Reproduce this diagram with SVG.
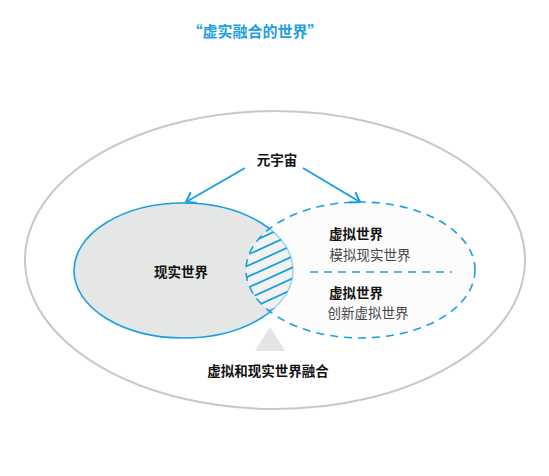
<svg xmlns="http://www.w3.org/2000/svg" width="549" height="476" viewBox="0 0 549 476">
<style>
text{font-family:"Noto Sans CJK SC","Noto Sans",sans-serif;text-anchor:middle;dominant-baseline:central}
.b{font-weight:bold;fill:#111;font-size:13.5px}
.n{fill:#444;font-size:13.5px}
.blue{stroke:#1a9fe0;fill:none}
</style>
<defs>
<marker id="ah" markerWidth="14" markerHeight="14" refX="11" refY="7" orient="auto" markerUnits="userSpaceOnUse">
<path d="M2,1 L11,7 L2,13" fill="none" stroke="#1a9fe0" stroke-width="2"/>
</marker>
<clipPath id="lens">
<path d="M270,228.8 A109.5 67.5 0 0 1 270 311.8 A114.5 68 0 0 1 270 228.8 Z"/>
</clipPath>
</defs>
<rect width="549" height="476" fill="#fff"/>
<text x="255" y="30" style="font-weight:bold;font-size:15px;fill:#1a9fe0">“虚实融合的世界”</text>
<g id="outer">
<ellipse cx="275" cy="260" rx="250" ry="149" fill="none" stroke="#c8c8c8" stroke-width="2"/>
</g>
<g id="real-world">
<ellipse cx="183.5" cy="270.5" rx="109.5" ry="67.5" fill="#e5e6e6" stroke="#1a9fe0" stroke-width="1.6"/>
<text class="b" x="181" y="271">现实世界</text>
</g>
<g id="virtual-world">
<ellipse cx="360.5" cy="270" rx="114.5" ry="68" fill="#fafafa" fill-opacity="0.6" stroke="#1a9fe0" stroke-width="1.6" stroke-dasharray="8,6"/>
<line x1="310" y1="272" x2="452" y2="272" stroke="#1a9fe0" stroke-width="1.6" stroke-dasharray="8,6"/>
<text class="b" x="356" y="233">虚拟世界</text>
<text class="n" x="370" y="254">模拟现实世界</text>
<text class="b" x="356" y="292">虚拟世界</text>
<text class="n" x="368" y="312">创新虚拟世界</text>
</g>
<g id="fusion">
<g clip-path="url(#lens)" stroke="#1a9fe0" stroke-width="1.8">
<line x1="245" y1="245" x2="300" y2="220"/>
<line x1="245" y1="256" x2="300" y2="231"/>
<line x1="245" y1="267" x2="300" y2="242"/>
<line x1="245" y1="278" x2="300" y2="253"/>
<line x1="245" y1="289" x2="300" y2="264"/>
<line x1="245" y1="300" x2="300" y2="275"/>
<line x1="245" y1="311" x2="300" y2="286"/>
<line x1="245" y1="322" x2="300" y2="297"/>
</g>
<polygon points="270,327 285,351 255,351" fill="#e3e4e4"/>
<text class="b" x="268" y="370">虚拟和现实世界融合</text>
</g>
<g id="metaverse">
<text class="b" x="277" y="159">元宇宙</text>
</g>
<g id="connectors">
<line class="blue" x1="245" y1="168" x2="186" y2="202" stroke-width="2" marker-end="url(#ah)"/>
<line class="blue" x1="303" y1="168" x2="360" y2="202" stroke-width="2" marker-end="url(#ah)"/>
</g>
</svg>
